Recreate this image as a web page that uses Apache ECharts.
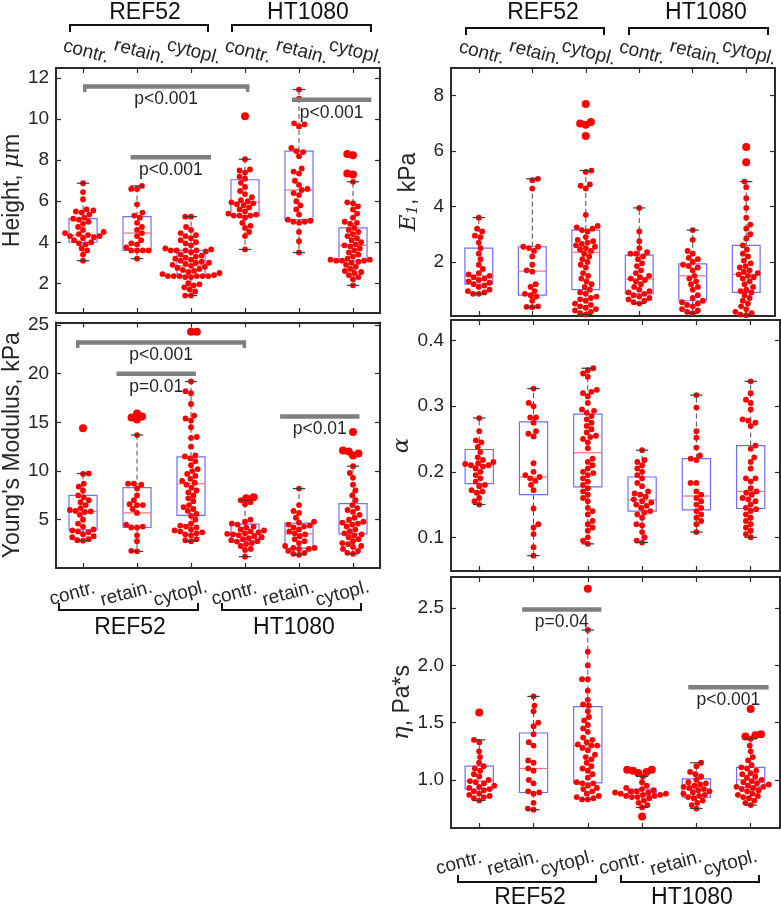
<!DOCTYPE html>
<html><head><meta charset="utf-8">
<script src="https://cdn.jsdelivr.net/npm/echarts@6/dist/echarts.min.js"></script>
<style>html,body{margin:0;padding:0;background:#fff}#c{width:781px;height:909px}</style>
</head><body><div id="c"></div>
<script>
// ---------------- DATA ----------------
const categories = ['contr.', 'retain.', 'cytopl.', 'contr.', 'retain.', 'cytopl.'];
const cellLines = ['REF52', 'HT1080'];

// Height, µm
const heightPts = [
  [6.88,6.45,6.1,5.6,5.55,5.5,5.45,5.35,5.2,5.15,5.1,5.0,4.9,4.75,4.6,4.5,4.45,4.4,4.35,4.3,4.3,4.25,4.2,4.1,4.0,3.95,3.9,3.7,3.6,3.4,3.1],
  [6.75,6.6,6.6,5.85,5.45,5.3,5.2,4.95,4.75,4.6,4.45,4.3,4.1,3.95,3.9,3.75,3.6,3.6,3.6,3.6,3.2],
  [5.25,5.25,4.75,4.6,4.45,4.35,4.3,4.2,4.1,4.0,3.95,3.85,3.7,3.65,3.6,3.6,3.6,3.6,3.55,3.5,3.4,3.35,3.3,3.25,3.2,3.15,3.1,3.05,3.0,3.0,2.95,2.9,2.85,2.8,2.75,2.7,2.65,2.6,2.55,2.5,2.45,2.4,2.35,2.35,2.35,2.35,2.35,2.35,2.3,2.3,2.0,1.95,1.9,1.8,1.7,1.6,1.4,1.4],
  [10.15,8.05,7.55,7.5,7.4,7.2,7.1,6.9,6.7,6.5,6.35,6.2,6.05,6.0,5.95,5.9,5.85,5.8,5.7,5.6,5.5,5.4,5.35,5.3,5.3,5.3,5.2,4.95,4.8,4.7,4.5,4.3,3.65],
  [11.45,11.0,9.8,9.75,9.65,8.6,8.45,8.4,8.2,7.6,7.45,7.35,7.0,6.8,6.6,6.55,6.4,6.3,6.0,5.8,5.6,5.35,5.1,5.05,5.0,5.0,4.95,4.5,4.05,3.5],
  [8.3,8.25,7.35,7.3,6.95,5.95,5.9,5.75,5.6,5.4,5.2,5.0,4.95,4.9,4.7,4.6,4.5,4.4,4.3,4.2,4.1,4.0,3.9,3.85,3.8,3.7,3.6,3.5,3.4,3.3,3.2,3.15,3.15,3.1,3.1,3.1,3.05,3.0,2.9,2.8,2.7,2.6,2.55,2.5,2.4,2.3,2.2,1.9]
];
// [lower whisker, Q1, median, Q3, upper whisker]
const heightBox = [
  [3.1,4.0,4.35,5.15,6.88],[3.2,3.6,4.45,5.25,6.75],[1.4,2.35,2.85,3.6,5.25],
  [3.65,5.3,5.95,7.05,8.05],[3.5,5.1,6.55,8.45,11.45],[1.9,3.1,3.85,4.7,6.95]
];
const heightTicks = [2,4,6,8,10,12];
// [x from, x to, y, label, end ticks]
const heightSig = [[1,4.08,11.6,'p<0.001',1],[1.88,3.37,8.15,'p<0.001',0],[4.87,6.34,10.95,'p<0.001',0]];

// Young's modulus, kPa
const youngPts = [
  [14.4,9.75,9.7,8.7,8.4,8.0,7.5,7.3,7.0,6.8,6.5,6.2,6.0,5.9,5.85,5.8,5.5,5.0,4.6,4.3,4.0,3.9,3.8,3.7,3.5,3.3,3.2,3.0,2.9,2.85],
  [15.9,15.6,15.5,15.3,13.7,8.7,8.7,8.6,8.2,7.5,7.0,6.6,6.5,6.5,6.1,5.7,4.5,4.3,4.2,4.2,3.4,2.8,1.8,1.75],
  [24.3,24.3,19.2,18.2,18.0,16.9,15.7,15.4,15.2,14.5,13.5,13.4,12.5,11.6,11.5,11.3,11.0,10.6,10.2,10.0,9.7,9.5,9.2,9.0,8.8,8.6,8.3,8.0,7.8,7.5,7.2,6.9,6.5,6.3,6.1,5.9,5.6,5.4,5.0,4.6,4.4,4.3,4.2,4.0,3.9,3.8,3.7,3.6,3.5,3.4,3.0,2.9,2.8],
  [7.3,7.2,7.0,6.8,6.6,5.0,4.8,4.6,4.5,4.3,4.2,4.0,3.9,3.8,3.7,3.6,3.55,3.5,3.4,3.3,3.2,3.1,3.0,2.9,2.8,2.75,2.6,2.5,2.3,2.0,1.9,1.2],
  [8.2,6.5,5.9,5.7,5.2,4.8,4.7,4.5,4.4,4.3,4.2,4.0,3.8,3.6,3.5,3.3,3.0,2.8,2.6,2.3,2.1,2.1,2.0,2.0,1.8,1.6,1.5,1.4],
  [14.0,12.1,12.0,11.8,11.6,10.5,9.8,9.3,8.6,8.0,7.5,7.0,6.5,6.2,6.0,5.8,5.5,5.2,5.0,4.8,4.7,4.6,4.5,4.3,4.0,3.8,3.6,3.5,3.4,3.2,3.0,2.8,2.6,2.5,2.3,2.2,2.0,1.8,1.6,1.5]
];
const youngBox = [
  [2.85,3.95,5.85,7.5,9.75],[1.75,4.2,5.7,8.3,13.7],[2.8,5.45,8.7,11.45,19.2],
  [1.2,2.8,3.6,4.55,7.0],[1.4,2.05,3.55,4.65,8.2],[1.5,3.55,4.7,6.65,10.5]
];
const youngTicks = [5,10,15,20,25];
const youngSig = [[0.87,4.02,23.2,'p<0.001',1],[1.62,3.09,20.0,'p=0.01',0],[4.65,6.12,15.6,'p<0.01',0]];

// E1, kPa
const e1Pts = [
  [3.6,3.2,3.1,2.95,2.9,2.7,2.5,2.3,2.1,1.9,1.75,1.6,1.55,1.5,1.45,1.4,1.35,1.3,1.25,1.2,1.15,1.1,1.0,0.95,0.9,0.85,0.85],
  [5.0,4.95,4.65,2.55,2.55,2.5,2.4,2.2,1.9,1.7,1.65,1.2,1.1,0.95,0.85,0.8,0.75,0.6,0.4,0.38,0.37],
  [7.7,7.05,7.0,6.95,6.55,5.3,5.25,4.8,4.75,4.65,3.7,3.3,3.25,3.2,3.15,3.1,2.9,2.8,2.75,2.7,2.65,2.6,2.55,2.5,2.45,2.4,2.3,2.2,2.1,2.0,1.9,1.8,1.6,1.5,1.4,1.3,1.2,1.1,1.0,0.9,0.85,0.75,0.7,0.65,0.6,0.5,0.45,0.4,0.35,0.3,0.25,0.2,0.15,0.1],
  [3.95,3.1,2.75,2.5,2.35,2.3,2.3,2.2,2.1,1.95,1.85,1.7,1.6,1.5,1.45,1.4,1.35,1.3,1.2,1.1,1.0,0.95,0.9,0.85,0.8,0.75,0.7,0.65,0.6,0.55,0.5],
  [3.15,2.8,2.4,2.3,2.15,2.1,2.0,1.9,1.85,1.8,1.7,1.5,1.4,1.3,1.2,1.1,1.0,0.8,0.7,0.6,0.55,0.5,0.45,0.4,0.3,0.25,0.2,0.15],
  [6.15,5.6,4.9,4.7,4.3,3.95,3.6,3.35,3.2,3.0,2.85,2.6,2.45,2.3,2.2,2.05,1.95,1.85,1.8,1.7,1.65,1.6,1.55,1.5,1.45,1.4,1.3,1.2,1.1,1.0,0.95,0.9,0.8,0.7,0.6,0.5,0.4,0.3,0.2,0.15,0.1,0.08]
];
const e1Box = [
  [0.85,1.2,1.5,2.5,3.6],[0.37,0.8,1.67,2.55,5.0],[0.1,1.0,2.35,3.15,5.3],
  [0.5,0.85,1.38,2.25,3.95],[0.15,0.6,1.5,1.93,3.15],[0.08,0.9,1.55,2.6,4.9]
];
const e1Ticks = [2,4,6,8];
const e1Sig = [];

// alpha
const alphaPts = [
  [0.282,0.262,0.248,0.245,0.238,0.23,0.222,0.218,0.215,0.213,0.212,0.21,0.21,0.208,0.205,0.2,0.195,0.19,0.185,0.18,0.178,0.172,0.17,0.168,0.16,0.155,0.15],
  [0.327,0.305,0.3,0.283,0.283,0.275,0.262,0.258,0.254,0.213,0.2,0.195,0.192,0.19,0.186,0.18,0.172,0.144,0.12,0.115,0.105,0.085,0.072],
  [0.358,0.355,0.35,0.345,0.325,0.322,0.32,0.315,0.305,0.295,0.293,0.29,0.285,0.28,0.275,0.27,0.265,0.26,0.255,0.253,0.25,0.245,0.236,0.22,0.215,0.21,0.205,0.2,0.198,0.195,0.19,0.185,0.18,0.175,0.17,0.165,0.16,0.155,0.145,0.14,0.135,0.125,0.12,0.115,0.11,0.1,0.095,0.09],
  [0.233,0.218,0.215,0.21,0.205,0.2,0.195,0.19,0.183,0.178,0.17,0.167,0.165,0.162,0.158,0.155,0.153,0.15,0.148,0.145,0.14,0.138,0.135,0.13,0.12,0.118,0.108,0.1,0.095,0.092],
  [0.317,0.298,0.262,0.252,0.237,0.225,0.22,0.218,0.183,0.183,0.17,0.165,0.16,0.155,0.15,0.145,0.14,0.135,0.13,0.125,0.12,0.108],
  [0.338,0.32,0.31,0.305,0.295,0.28,0.278,0.275,0.27,0.24,0.235,0.222,0.215,0.205,0.19,0.19,0.185,0.175,0.17,0.168,0.165,0.16,0.158,0.155,0.15,0.145,0.143,0.14,0.135,0.13,0.125,0.12,0.115,0.11,0.105,0.1]
];
const alphaBox = [
  [0.15,0.182,0.21,0.234,0.282],[0.072,0.165,0.192,0.276,0.327],[0.09,0.177,0.229,0.288,0.358],
  [0.092,0.14,0.157,0.192,0.233],[0.108,0.142,0.163,0.22,0.317],[0.1,0.144,0.17,0.24,0.338]
];
const alphaTicks = [0.1,0.2,0.3,0.4];
const alphaSig = [];

// eta, Pa*s
const etaPts = [
  [1.59,1.35,1.33,1.25,1.2,1.15,1.12,1.1,1.08,1.05,1.03,1.0,0.99,0.98,0.97,0.95,0.94,0.93,0.92,0.91,0.9,0.88,0.87,0.86,0.85,0.84,0.82],
  [1.73,1.65,1.6,1.5,1.47,1.4,1.33,1.3,1.17,1.15,1.1,1.08,1.0,0.97,0.9,0.89,0.88,0.8,0.75,0.74],
  [2.67,2.31,2.12,2.0,1.88,1.88,1.78,1.7,1.66,1.65,1.6,1.55,1.52,1.48,1.45,1.42,1.37,1.35,1.33,1.31,1.3,1.3,1.28,1.26,1.22,1.2,1.18,1.15,1.12,1.1,1.08,1.05,1.02,0.98,0.97,0.97,0.95,0.93,0.92,0.9,0.88,0.86,0.85,0.84,0.83,0.83],
  [1.09,1.09,1.08,1.07,1.06,1.03,0.98,0.95,0.93,0.92,0.91,0.9,0.9,0.89,0.89,0.88,0.88,0.87,0.87,0.86,0.86,0.85,0.85,0.84,0.82,0.8,0.78,0.76,0.68],
  [1.15,1.12,1.07,1.05,1.03,1.0,0.98,0.97,0.96,0.95,0.94,0.93,0.92,0.91,0.9,0.89,0.88,0.87,0.86,0.85,0.84,0.82,0.8,0.78,0.75],
  [1.62,1.4,1.39,1.38,1.36,1.3,1.25,1.2,1.17,1.13,1.11,1.1,1.08,1.06,1.05,1.03,1.02,1.0,0.99,0.98,0.97,0.96,0.95,0.94,0.94,0.93,0.92,0.91,0.9,0.88,0.87,0.86,0.85,0.84,0.82,0.8,0.78]
];
const etaBox = [
  [0.82,0.92,0.99,1.12,1.35],[0.74,0.89,1.1,1.41,1.73],[0.83,0.975,1.3,1.64,2.31],
  [0.76,0.86,0.88,0.92,1.03],[0.75,0.85,0.92,1.01,1.15],[0.78,0.94,1.0,1.11,1.36]
];
const etaTicks = [1.0,1.5,2.0,2.5];
const etaSig = [[1.79,3.25,2.49,'p=0.04',0],[4.85,6.33,1.81,'p<0.001',0]];

// ---------------- LAYOUT / STYLE ----------------
const FONT = "'Liberation Sans', Arial, Helvetica, sans-serif";
const SERIF = "'DejaVu Serif', 'Liberation Serif', serif";
const TXT = '#262626';
const panels = [
  {pts: heightPts, box: heightBox, ticks: heightTicks, sig: heightSig, rect:[55,68,325,245], x:[0.5,6.5], y:[0.55,12.5], dec:0,
   name:'{t|Height, }{i|μ}{t|m}', gap:31, lab:{pos:'top', margin:17, pad:[0,0,0,6]}},
  {pts: youngPts, box: youngBox, ticks: youngTicks, sig: youngSig, rect:[55,322.5,325,245.5], x:[0.5,6.5], y:[0.04,25.26], dec:0,
   name:"{t|Young's Modulus, kPa}", gap:31, lab:{pos:'bottom', margin:23, pad:[0,22,0,0]}},
  {pts: e1Pts, box: e1Box, ticks: e1Ticks, sig: e1Sig, rect:[451,68,329,248], x:[0.48,6.54], y:[0.05,9.0], dec:0,
   name:'{i|E}{s|1}{t|, kPa}', gap:30, lab:{pos:'top', margin:16, pad:[0,0,0,6]}},
  {pts: alphaPts, box: alphaBox, ticks: alphaTicks, sig: alphaSig, rect:[451,320,329,251], x:[0.48,6.54], y:[0.0486,0.4316], dec:1,
   name:'{i|α}', gap:37, lab:null},
  {pts: etaPts, box: etaBox, ticks: etaTicks, sig: etaSig, rect:[451,577,329,251], x:[0.48,6.54], y:[0.58,2.773], dec:1,
   name:'{i|η}{t|, Pa*s}', gap:34, lab:{pos:'bottom', margin:30, pad:[0,42,0,0]}}
];
const brackets = [ // [x1, x2, y, tickDir]
  [70,208,25,1],[232,371,25,1],[466,604,28,1],[629,768,28,1],
  [59,198,610,-1],[222,361,610,-1],[458,596,882,-1],[621,759,882,-1]
];
const bracketTitles = [[145,13,0],[308,13,1],[543,13,0],[706,13,1],[130,628,0],[294,628,1],[530,898,0],[692,898,1]];

const chart = echarts.init(document.getElementById('c'), null, {renderer:'canvas'});

function catLabel(v){ return categories[Math.round(v)-1] || ''; }

function renderBox(params, api){
  const x = api.value(0);
  const c = k => api.coord([x, api.value(k)]);
  const lo=c(1), q1=c(2), md=c(3), q3=c(4), hi=c(5);
  const unit = api.size([1,0])[0];
  const bw = unit*0.52;
  const cx = lo[0];
  const dash = {stroke:'#4d4d4d', lineWidth:1, lineDash:[5,3]};
  return {type:'group', children:[
    {type:'line', shape:{x1:cx,y1:q3[1],x2:cx,y2:hi[1]}, style:dash},
    {type:'line', shape:{x1:cx,y1:q1[1],x2:cx,y2:lo[1]}, style:dash},
    {type:'rect', shape:{x:cx-bw/2,y:q3[1],width:bw,height:q1[1]-q3[1]}, style:{fill:null, stroke:'#6f6fff', lineWidth:1.2}},
    {type:'line', shape:{x1:cx-bw/2,y1:md[1],x2:cx+bw/2,y2:md[1]}, style:{stroke:'#ff7070', lineWidth:1.2}}
  ]};
}
function renderCaps(params, api){
  const x = api.value(0);
  const lo=api.coord([x, api.value(1)]), hi=api.coord([x, api.value(5)]);
  const cw = api.size([1,0])[0]*0.23;
  const st = {stroke:'#3a3a3a', lineWidth:1.2};
  return {type:'group', children:[
    {type:'line', shape:{x1:lo[0]-cw/2,y1:hi[1],x2:lo[0]+cw/2,y2:hi[1]}, style:st},
    {type:'line', shape:{x1:lo[0]-cw/2,y1:lo[1],x2:lo[0]+cw/2,y2:lo[1]}, style:st}
  ]};
}
function makeSigRenderer(sig){
  return function(params, api){
    const s = sig[params.dataIndex];
    const a = api.coord([api.value(0), api.value(2)]);
    const b = api.coord([api.value(1), api.value(2)]);
    const kids = [
      {type:'line', shape:{x1:a[0],y1:a[1],x2:b[0],y2:b[1]}, style:{stroke:'#7f7f7f', lineWidth:4.5}}
    ];
    if (s[4]) {
      kids.push({type:'rect', shape:{x:a[0],y:a[1],width:3.5,height:5.5}, style:{fill:'#7f7f7f'}});
      kids.push({type:'rect', shape:{x:b[0]-3.5,y:b[1],width:3.5,height:5.5}, style:{fill:'#7f7f7f'}});
    }
    kids.push({type:'text', x:(a[0]+b[0])/2, y:a[1]+13, style:{text:s[3], fill:TXT, fontSize:17.5, fontFamily:FONT, align:'center', verticalAlign:'middle'}});
    return {type:'group', children:kids};
  };
}

function swarm(ys, D){
  const order = ys.map((y,i)=>i).sort((a,b)=>ys[b]-ys[a]);
  const placed = []; const off = new Array(ys.length).fill(0);
  let flip = 1;
  for (const i of order){
    const y = ys[i];
    const iv = [];
    for (const p of placed){ const dy = Math.abs(p.y-y); if (dy < D){ const h = Math.sqrt(D*D-dy*dy); iv.push([p.x-h, p.x+h]); } }
    const cands = [0]; iv.forEach(v=>{cands.push(v[0], v[1]);});
    cands.sort((u,v)=> (Math.abs(u)-Math.abs(v)) || (flip*(v-u)));
    let best = 0;
    for (const cx of cands){ if (iv.every(v=> cx <= v[0]+1e-6 || cx >= v[1]-1e-6)){ best = cx; break; } }
    flip = -flip;
    off[i] = best; placed.push({x:best, y});
  }
  return off;
}

const mainX = []; // xAxis index carrying data for each panel
function buildOption(offsets){
  const grid=[], xAxis=[], yAxis=[], series=[];
  const axisLine = {show:true, onZero:false, lineStyle:{color:'#2b2b2b', width:2}};
  panels.forEach((p, k)=>{
    grid.push({left:p.rect[0], top:p.rect[1], width:p.rect[2], height:p.rect[3], containLabel:false});
    const tick = {show:true, inside:true, length:5, lineStyle:{color:'#2b2b2b', width:1.2}, customValues:[1,2,3,4,5,6]};
    mainX[k] = xAxis.length;
    xAxis.push({type:'value', gridIndex:k, position:'bottom', min:p.x[0], max:p.x[1], axisLine, axisTick:tick, splitLine:{show:false}, axisLabel:{show:false}});
    xAxis.push({type:'value', gridIndex:k, position:'top', min:p.x[0], max:p.x[1], axisLine, axisTick:tick, splitLine:{show:false}, axisLabel:{show:false}});
    if (p.lab){
      // category labels split over two label-only axes so none is hidden as overlapping
      [[1,3,5],[2,4,6]].forEach(vals=>{
        xAxis.push({type:'value', gridIndex:k, position:p.lab.pos, min:p.x[0], max:p.x[1],
          axisLine:{show:false}, axisTick:{show:false}, splitLine:{show:false},
          axisLabel:{show:true, fontSize:19, fontFamily:FONT, color:TXT, rotate:15, align:'center', verticalAlign:'middle',
            customValues:vals, formatter:catLabel, showMinLabel:true, showMaxLabel:true, hideOverlap:false,
            margin:p.lab.margin, padding:p.lab.pad}});
      });
    }
    const ytick = {show:true, inside:true, length:5, lineStyle:{color:'#2b2b2b', width:1.2}, customValues:p.ticks};
    yAxis.push({type:'value', gridIndex:k, position:'left', min:p.y[0], max:p.y[1], axisLine, axisTick:ytick, splitLine:{show:false},
      axisLabel:{show:true, customValues:p.ticks, fontSize:19, fontFamily:FONT, color:TXT, margin:7, showMinLabel:true, showMaxLabel:true, formatter:v=>v.toFixed(p.dec)},
      name:p.name, nameLocation:'middle', nameGap:p.gap, nameRotate:90,
      nameTextStyle:{rich:{
        t:{fontSize:23, fontFamily:FONT, color:TXT},
        i:{fontSize:23, fontFamily:SERIF, fontStyle:'italic', color:TXT},
        s:{fontSize:15, fontFamily:SERIF, fontStyle:'italic', color:TXT, padding:[9,0,0,0]}
      }}});
    yAxis.push({type:'value', gridIndex:k, position:'right', min:p.y[0], max:p.y[1], axisLine, axisTick:ytick, splitLine:{show:false}, axisLabel:{show:false}});

    const xi = mainX[k], yi = 2*k;
    const boxData = p.box.map((b,i)=>[i+1].concat(b));
    series.push({type:'custom', xAxisIndex:xi, yAxisIndex:yi, renderItem:renderBox, data:boxData, z:2, silent:true});
    const pts = [];
    p.pts.forEach((arr, g)=>{
      arr.forEach((v, j)=>{
        const out = (v > p.box[g][4] + 1e-9 || v < p.box[g][0] - 1e-9) ? 1 : 0;
        const dx = offsets ? offsets[k][g][j] : 0;
        pts.push([g+1+dx, v, out]);
      });
    });
    series.push({type:'scatter', xAxisIndex:xi, yAxisIndex:yi, data:pts, z:3, silent:true,
      symbol:'circle', symbolSize:(val)=> val[2] ? 8 : 5.8, itemStyle:{color:'#ff0000', opacity:1}});
    series.push({type:'custom', xAxisIndex:xi, yAxisIndex:yi, renderItem:renderCaps, data:boxData, z:4, silent:true});
    if (p.sig.length){
      series.push({type:'custom', xAxisIndex:xi, yAxisIndex:yi, renderItem:makeSigRenderer(p.sig),
        data:p.sig.map(s=>[s[0], s[1], s[2]]), z:5, silent:true, clip:false});
    }
  });
  const graphic = [];
  brackets.forEach(b=>{
    const d = 7*b[3];
    graphic.push({type:'polyline', shape:{points:[[b[0],b[2]+d],[b[0],b[2]],[b[1],b[2]],[b[1],b[2]+d]]},
      style:{stroke:'#111', lineWidth:2, fill:null}, silent:true});
  });
  bracketTitles.forEach(t=>{
    graphic.push({type:'text', x:t[0], y:t[1], style:{text:cellLines[t[2]], fontSize:23, fontFamily:FONT, fill:'#111', align:'center', verticalAlign:'middle'}, silent:true});
  });
  return {animation:false, backgroundColor:'#fff', grid, xAxis, yAxis, series, graphic};
}

chart.setOption(buildOption(null));
// beeswarm layout computed in pixel space through the chart's own scales
const offsets = panels.map((p, k)=>{
  const f = {xAxisIndex:mainX[k], yAxisIndex:2*k};
  const unit = chart.convertToPixel(f, [2, p.y[0]])[0] - chart.convertToPixel(f, [1, p.y[0]])[0];
  return p.pts.map((arr, g)=>{
    const ys = arr.map(v => chart.convertToPixel(f, [g+1, v])[1]);
    return swarm(ys, 5.8).map(o => o/unit);
  });
});
chart.setOption(buildOption(offsets), true);
</script></body></html>
